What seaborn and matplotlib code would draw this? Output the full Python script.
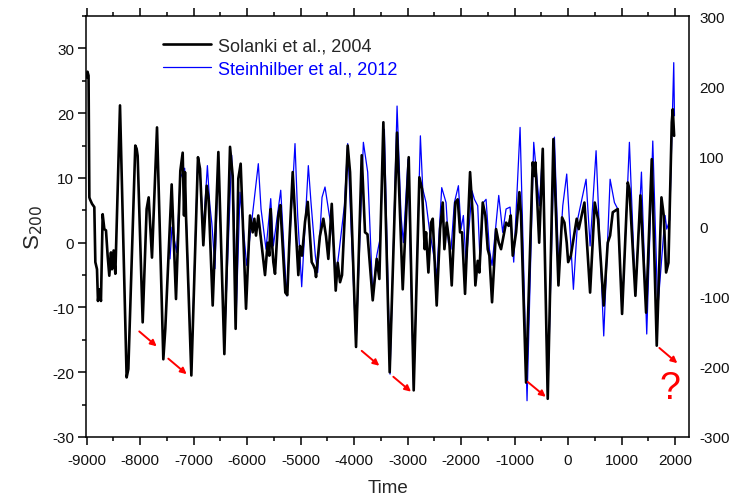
import numpy as np
import pandas as pd
import matplotlib
matplotlib.use("Agg")
import matplotlib.pyplot as plt
import seaborn as sns
from matplotlib.ticker import MultipleLocator

# ---- data ----
solanki_years = [
    -9000, -8985, -8965, -8950, -8938, -8900, -8857, -8838, -8807, -8789, -8764, -8733,
    -8701, -8670, -8639, -8608, -8577, -8546, -8527, -8496, -8464, -8377, -8253, -8221,
    -8091, -8066, -8047, -7953, -7879, -7841, -7779, -7685, -7567, -7530, -7411, -7330,
    -7249, -7205, -7180, -7162, -7143, -7043, -6919, -6881, -6819, -6756, -6720, -6644,
    -6538, -6426, -6320, -6270, -6215, -6165, -6121, -6021, -5946, -5896, -5865, -5834,
    -5791, -5666, -5616, -5585, -5559, -5535, -5510, -5479, -5417, -5380, -5286, -5249,
    -5211, -5148, -5043, -5011, -4974, -4918, -4867, -4793, -4760, -4731, -4712, -4640,
    -4575, -4525, -4482, -4418, -4344, -4307, -4263, -4226, -4164, -4120, -4076, -3964,
    -3858, -3796, -3750, -3652, -3577, -3528, -3453, -3335, -3197, -3091, -2979, -2886,
    -2780, -2730, -2680, -2655, -2611, -2562, -2530, -2456, -2393, -2343, -2312, -2268,
    -2219, -2175, -2107, -2063, -2019, -1982, -1926, -1832, -1782, -1733, -1689, -1658,
    -1595, -1546, -1502, -1471, -1421, -1346, -1296, -1253, -1159, -1109, -1072, -1034,
    -972, -910, -879, -785, -661, -630, -610, -540, -473, -380, -274, -180,
    -112, -68, -25, 2, 52, 162, 200, 306, 412, 499, 561, 667,
    742, 786, 836, 929, 1010, 1116, 1147, 1259, 1353, 1459, 1565, 1658,
    1746, 1789, 1833, 1877, 1939, 1958, 1983,
]
solanki_s200 = [
    25.5, 26.4, 25.8, 7.0, 6.7, 6.0, 5.5, -3.0, -4.1, -9.0, -7.2, -9.0,
    4.4, 2.1, 1.9, -2.0, -5.1, -1.5, -4.1, -1.2, -4.8, 21.2, -20.8, -19.5,
    15.0, 14.5, 13.4, -12.3, 5.2, 7.0, -2.3, 17.8, -18.0, -13.3, 9.0, -8.7,
    11.1, 13.9, 4.2, 10.9, 4.2, -20.5, 13.2, 11.4, -0.4, 8.8, 6.8, -9.7,
    14.0, -17.2, 14.8, 10.3, -13.3, 9.9, 12.2, -10.2, 4.2, 1.6, 3.7, 1.1,
    4.2, -5.0, 0.0, -2.0, 5.2, 0.0, -3.0, -4.8, 4.2, 5.8, -7.7, -8.1,
    0.0, 10.9, -5.0, -0.5, -2.0, 3.2, 6.3, -3.0, -3.5, -4.1, -5.3, 1.0,
    3.7, 1.0, -2.5, 6.0, -7.4, -3.1, -6.1, -5.0, 6.2, 15.0, 10.9, -16.1,
    13.5, 1.6, 1.3, -8.9, -2.5, -5.6, 18.6, -20.0, 17.0, -7.2, 13.2, -22.8,
    10.1, 8.3, -1.0, 1.6, -4.6, 3.1, 3.7, -9.7, 2.1, 6.2, -1.0, 3.1,
    0.0, -6.6, 6.2, 6.7, 1.6, 1.6, -7.9, 10.9, 4.2, -6.6, -2.8, -4.6,
    6.2, 4.2, -1.0, -2.0, -9.2, 2.1, 0.0, -1.0, 3.1, 2.6, 4.2, -2.0,
    1.6, 7.8, 4.2, -21.6, 12.4, 10.3, 12.4, 0.0, 14.5, -24.1, 16.0, -6.6,
    3.9, 3.1, 0.0, -3.0, -2.0, 3.7, 2.1, 6.2, -7.7, 6.2, 3.6, -9.7,
    0.0, 1.1, 4.7, 5.2, -11.0, 9.3, 8.3, -8.2, 7.3, -10.8, 12.9, -15.9,
    7.0, 4.2, -4.6, -3.1, 18.6, 20.6, 16.5,
]

steinhilber_years = [
    -7442, -7405, -7318, -7249, -7168, -7143, -7043, -6925, -6880, -6819, -6743, -6700,
    -6660, -6601, -6538, -6426, -6289, -6240, -6208, -6133, -6008, -5791, -5740, -5647,
    -5559, -5510, -5372, -5304, -5261, -5105, -5055, -4980, -4856, -4806, -4725, -4681,
    -4600, -4544, -4463, -4413, -4338, -4276, -4182, -4120, -3964, -3827, -3746, -3652,
    -3577, -3515, -3434, -3328, -3197, -3123, -3079, -2992, -2886, -2761, -2717,
    -2655, -2593, -2530, -2456, -2362, -2281, -2237, -2188, -2125, -2050, -2001, -1957,
    -1907, -1795, -1751, -1689, -1645, -1583, -1533, -1471, -1421, -1296, -1222, -1159,
    -1084, -1016, -897, -767, -642, -586, -536, -473, -380, -255, -174, -99,
    -25, 100, 181, 337, 412, 524, 667, 786, 867, 929, 1010, 1147,
    1259, 1372, 1471, 1584, 1677, 1814, 1845, 1900, 1976, 1989,
]
steinhilber_s200 = [
    -2.5, 2.4, -1.5, 10.0, 11.5, 5.0, -20.0, 12.4, 11.0, 2.0, 11.9, 6.0,
    3.0, -4.0, 13.0, -16.0, 13.5, 3.0, -12.0, 7.8, -3.5, 12.2, 5.2, -1.0,
    6.8, -0.5, 8.1, -2.0, -8.2, 15.3, 4.2, -6.8, 11.9, 6.2, -2.0, -4.6,
    7.0, 8.6, 4.2, 2.1, -5.1, -1.0, 5.7, 15.3, -15.9, 15.5, 10.9, -8.0,
    -2.0, 0.6, 17.5, -20.3, 21.1, 4.2, 0.0, 12.9, -22.8, 16.5, 8.3,
    6.2, 2.1, -1.0, -5.1, 8.5, 6.2, 0.0, -1.0, 6.2, 8.8, 2.1, 4.2,
    -3.3, 8.0, 6.7, 5.7, -3.0, 6.2, 6.7, -1.0, -3.5, 7.3, 1.6, 5.2,
    5.5, -3.0, 17.8, -24.4, 15.5, 10.3, 5.7, 14.5, -24.1, 16.3, -4.1, 5.7,
    10.6, -7.2, 3.7, 9.8, -0.5, 14.2, -14.4, 9.8, 6.2, 5.2, -11.0, 15.5,
    -8.2, 10.9, -14.1, 15.7, -10.2, 4.2, 2.1, 3.5, 27.8, 19.6,
]

x_ticks = list(range(-9000, 2001, 1000))
left_ticks = [-30, -20, -10, 0, 10, 20, 30]
right_ticks = [-300, -200, -100, 0, 100, 200, 300]

arrow_starts = [(-8017, -13.7), (-7474, -17.9), (-3858, -16.7), (-3267, -20.7), (-754, -21.5), (1707, -16.25)]
arrow_ends = [(-7691, -16.0), (-7130, -20.3), (-3529, -19.0), (-2936, -23.0), (-417, -23.8), (2043, -18.6)]
question_pos = (1907, -22.5)

# ---- plotting ----
sns.set_style("ticks")
plt.rcParams["font.family"] = ["Liberation Sans", "DejaVu Sans"]
plt.rcParams["axes.unicode_minus"] = False

fig = plt.figure(figsize=(7.33, 5.02), dpi=100)
ax = fig.add_axes([0.1173, 0.1275, 0.8231, 0.8386])

df_s = pd.DataFrame({"year": solanki_years, "s200": solanki_s200})
df_st = pd.DataFrame({"year": steinhilber_years, "s200": steinhilber_s200})

sns.lineplot(data=df_st, x="year", y="s200", ax=ax, color="#0000FF", lw=0.9,
             estimator=None, label="Steinhilber et al., 2012",
             solid_joinstyle="round")
sns.lineplot(data=df_s, x="year", y="s200", ax=ax, color="black", lw=1.9,
             estimator=None, label="Solanki et al., 2004",
             solid_joinstyle="round")

ax.set_xlim(-9013, 2267)
ax.set_ylim(-30, 35)
ax.set_xticks(x_ticks)
ax.set_yticks(left_ticks)
ax.xaxis.set_minor_locator(MultipleLocator(500))
ax.yaxis.set_minor_locator(MultipleLocator(5))
ax.tick_params(which="both", direction="out", top=True, right=True,
               labeltop=False, labelright=False, width=1.1, color="black",
               labelsize=11, labelcolor="#111111")
ax.tick_params(which="major", length=6)
ax.tick_params(which="minor", length=3)
ax.tick_params(axis="y", pad=2.5)
ax.tick_params(axis="x", pad=5.5)
for sp in ax.spines.values():
    sp.set_linewidth(1.1)
    sp.set_color("black")

ax.set_xlabel("Time", fontsize=13.5, labelpad=9)
ax.set_ylabel("S$_{200}$", fontsize=16, labelpad=5)

handles, labels = ax.get_legend_handles_labels()
order = [1, 0]
leg = ax.legend([handles[i] for i in order], [labels[i] for i in order],
                loc="upper left", bbox_to_anchor=(0.1276, 0.949), frameon=False,
                fontsize=13, handlelength=2.65, handletextpad=0.38,
                labelspacing=0.35, borderpad=0, borderaxespad=0)
leg.get_texts()[1].set_color("#0000FF")

for (sx, sy), (ex, ey) in zip(arrow_starts, arrow_ends):
    ax.annotate("", xy=(ex, ey), xytext=(sx, sy),
                arrowprops=dict(arrowstyle="-|>", color="red", lw=1.4,
                                mutation_scale=9, shrinkA=0, shrinkB=0))
ax.text(question_pos[0], question_pos[1], "?", color="red", fontsize=27,
        ha="center", va="center")

ax2 = ax.twinx()
ax2.set_ylim(-300, 300)
ax2.set_yticks(right_ticks)
ax2.tick_params(axis="y", length=0, pad=7, labelsize=11, labelcolor="#111111")
for sp in ax2.spines.values():
    sp.set_visible(False)
ax2.grid(False)

fig.savefig("out.png", dpi=100)
